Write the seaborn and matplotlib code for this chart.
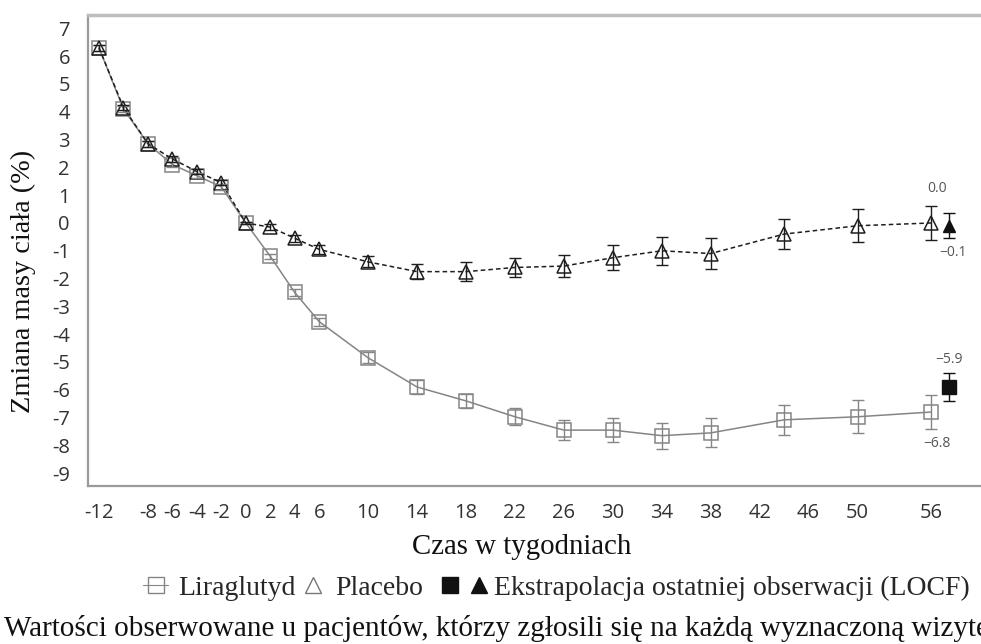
import numpy as np
import pandas as pd
import seaborn as sns
import matplotlib
matplotlib.use('Agg')
import matplotlib.pyplot as plt
from matplotlib.lines import Line2D
from matplotlib.legend_handler import HandlerTuple

# weeks of visits
weeks = [-12, -10, -8, -6, -4, -2, 0, 2, 4, 6, 10, 14, 18, 22, 26, 30, 34, 38, 44, 50, 56]

lira = [6.3, 4.1, 2.85, 2.1, 1.7, 1.3, 0.0, -1.2, -2.5, -3.55, -4.85, -5.9, -6.4,
        -6.97, -7.45, -7.45, -7.65, -7.55, -7.08, -6.97, -6.8]
lira_err = [0.1, 0.1, 0.1, 0.1, 0.1, 0.1, 0.05, 0.1, 0.12, 0.15, 0.2, 0.25, 0.25,
            0.3, 0.35, 0.42, 0.47, 0.52, 0.55, 0.6, 0.6]

placebo = [6.3, 4.15, 2.85, 2.3, 1.85, 1.45, 0.0, -0.15, -0.55, -0.95, -1.4, -1.75, -1.75,
           -1.6, -1.55, -1.25, -1.0, -1.1, -0.4, -0.1, 0.0]
placebo_err = [0.1, 0.1, 0.1, 0.1, 0.1, 0.1, 0.05, 0.1, 0.12, 0.15, 0.2, 0.28, 0.33,
               0.35, 0.4, 0.45, 0.5, 0.55, 0.55, 0.6, 0.6]

# LOCF points
locf_week = 57.5
locf_lira, locf_lira_err = -5.9, 0.5
locf_placebo, locf_placebo_err = -0.1, 0.45

x_ticks = [-12, -8, -6, -4, -2, 0, 2, 4, 6, 10, 14, 18, 22, 26, 30, 34, 38, 42, 46, 50, 56]
y_ticks = list(range(-9, 8))

df = pd.DataFrame({
    'week': weeks * 2,
    'change': lira + placebo,
    'group': ['Liraglutyd'] * len(weeks) + ['Placebo'] * len(weeks),
})

sns.set_style('white')
serif = 'Liberation Serif'
sans = 'Open Sans'
plt.rcParams['font.family'] = [sans, 'DejaVu Sans']

lira_col = '#858585'
plac_col = '#1e1e1e'

fig = plt.figure(figsize=(9.81, 6.44), dpi=100)
ax = fig.add_axes([88 / 981, 1 - 486 / 644, (986 - 88) / 981, (486 - 15) / 644])

sns.lineplot(data=df, x='week', y='change', hue='group', style='group',
             palette={'Liraglutyd': lira_col, 'Placebo': plac_col},
             markers={'Liraglutyd': 's', 'Placebo': '^'},
             dashes={'Liraglutyd': '', 'Placebo': (3, 2)},
             markersize=10, markerfacecolor='none', markeredgewidth=1.1,
             linewidth=1.1, legend=False, ax=ax)
# seaborn paints marker edges white by default: give them the line colour
for line in ax.lines:
    line.set_markeredgecolor(line.get_color())

ax.errorbar(weeks, lira, yerr=lira_err, fmt='none', ecolor=lira_col,
            elinewidth=1.0, capsize=4, capthick=1.0, zorder=3)
ax.errorbar(weeks, placebo, yerr=placebo_err, fmt='none', ecolor=plac_col,
            elinewidth=1.0, capsize=4, capthick=1.0, zorder=3)

# LOCF
ax.errorbar([locf_week], [locf_lira], yerr=[locf_lira_err], fmt='s', color='#111',
            ms=10, elinewidth=1.0, capsize=4, zorder=4)
ax.errorbar([locf_week], [locf_placebo], yerr=[locf_placebo_err], fmt='^', color='#111',
            ms=9, elinewidth=1.0, capsize=4, zorder=4)

ann = dict(textcoords='offset pixels', ha='center', va='center', fontsize=10,
           color='#555', family=sans)
ax.annotate('0.0', xy=(56.5, placebo[-1]), xytext=(0, 34), **ann)
ax.annotate('\u22120.1', xy=(locf_week, locf_placebo), xytext=(4, -27), **ann)
ax.annotate('\u22125.9', xy=(locf_week, locf_lira), xytext=(0, 28), **ann)
ax.annotate('\u22126.8', xy=(56.5, lira[-1]), xytext=(0, -31), **ann)

ax.set_xlim(-12.9, 60.5)
ax.set_ylim(-9.46, 7.48)
ax.set_xticks(x_ticks)
ax.set_yticks(y_ticks)
ax.set_xticklabels([str(t) for t in x_ticks])
ax.set_yticklabels([str(t) for t in y_ticks])
ax.tick_params(axis='both', labelsize=14.5, labelcolor='#333333', color='#777',
               direction='out')
ax.tick_params(axis='x', length=7, width=1.2, pad=5)
ax.tick_params(axis='y', length=6, width=1.0, pad=7)

ax.spines['right'].set_visible(False)
ax.spines['top'].set_color('#bdbdbd')
ax.spines['top'].set_linewidth(2.5)
for s in ['left', 'bottom']:
    ax.spines[s].set_color('#9a9a9a')
    ax.spines[s].set_linewidth(1.6)

ax.set_xlabel('Czas w tygodniach', family=serif, fontsize=20.8, color='#111')
ax.set_ylabel('Zmiana masy ciała (%)', family=serif, fontsize=20.3, color='#111')
ax.xaxis.set_label_coords((522 - 88) / 898, -(547 - 486) / 471)
ax.xaxis.label.set_va('center')
ax.yaxis.set_label_coords((23 - 88) / 898, (486 - 281) / 471)
ax.yaxis.label.set_va('center')

# legend: two open-marker entries, then the LOCF entry with a pair of markers
leg_prop = {'family': serif, 'size': 20}
leg_y = 1 - 588 / 644
handles = [
    Line2D([], [], marker='s', ls='-', lw=0.8, color=lira_col, mfc='none', ms=11),
    Line2D([], [], marker='^', ls='none', color='#777', mfc='none', ms=11),
]
fig.legend(handles, ['Liraglutyd', 'Placebo'], loc='center left',
           bbox_to_anchor=(143 / 981, leg_y), ncol=2, frameon=False, prop=leg_prop,
           handlelength=0.9, handletextpad=0.35, columnspacing=0.2,
           borderaxespad=0, borderpad=0)
locf_handle = (Line2D([], [], marker='s', ls='none', color='#111', ms=11),
               Line2D([], [], marker='^', ls='none', color='#111', ms=11))
fig.legend([locf_handle], ['Ekstrapolacja ostatniej obserwacji (LOCF)'], loc='center left',
           bbox_to_anchor=(437 / 981, leg_y), frameon=False, prop=leg_prop,
           handlelength=2.0, handletextpad=0.05, borderaxespad=0, borderpad=0,
           handler_map={tuple: HandlerTuple(ndivide=None, pad=0.1)})

fig.text(4 / 981, 1 - 629 / 644,
         'Wartości obserwowane u pacjentów, którzy zgłosili się na każdą wyznaczoną wizytę',
         family=serif, fontsize=21.0, color='#111', ha='left', va='center')

fig.savefig('out.png', dpi=100)
